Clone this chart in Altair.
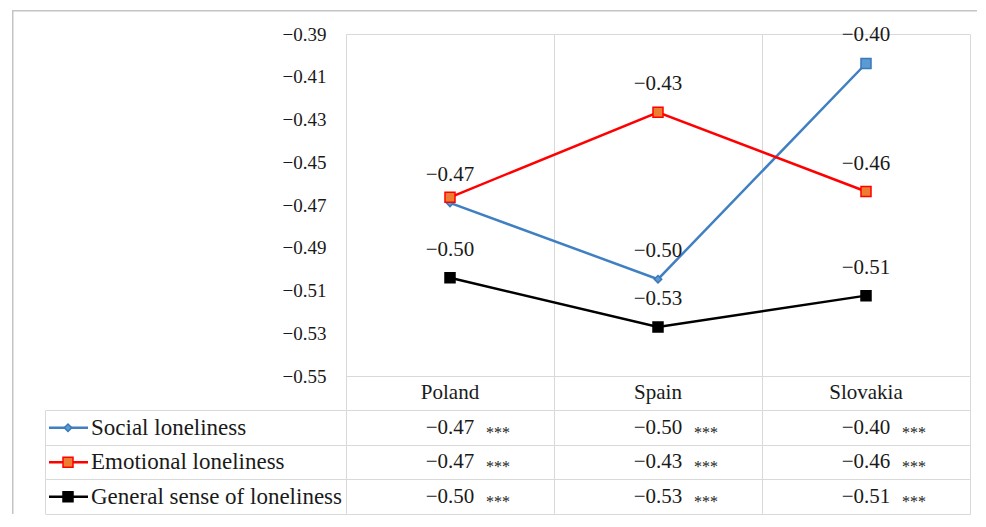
import altair as alt
import pandas as pd

# ---------------- data ----------------
countries = ["Poland", "Spain", "Slovakia"]
series_names = ["Social loneliness", "Emotional loneliness", "General sense of loneliness"]
social = [-0.469, -0.5047, -0.4038]
emotional = [-0.4664, -0.4266, -0.4637]
general = [-0.504, -0.5271, -0.5124]
significance = ["***", "***", "***"]
y_ticks = [-0.55, -0.53, -0.51, -0.49, -0.47, -0.45, -0.43, -0.41, -0.39]

line_colors = ["#3f7fc2", "#ff0000", "#000000"]
fill_colors = ["#5b9bd5", "#ed7d31", "#000000"]
edge_colors = ["#3a78b8", "#ff0000", "#000000"]

FONT = "Liberation Serif"
TXT = "#1a1a1a"
GRID = "#d9d9d9"
FRAME = "#c4c4c4"

TOP_H = 342
BOT_H = 138

rows = []
for s, vals in zip(series_names, [social, emotional, general]):
    for i, (c, v, st) in enumerate(zip(countries, vals, significance)):
        rows.append({"series": s, "row": s, "country": c, "idx": i, "value": v, "stars": st})
df = pd.DataFrame(rows)

header_key = " "
row_domain = [header_key] + series_names
header_df = pd.DataFrame({"country": countries, "row": [header_key] * len(countries)})
label_df = pd.DataFrame({"series": series_names, "row": series_names})
frame_df = pd.DataFrame({"k": [0]})

shape_expr = "datum.series == 'Social loneliness' && datum.country != 'Slovakia' ? 'diamond' : 'square'"
size_expr = "datum.series == 'Social loneliness' && datum.country != 'Slovakia' ? 55 : 100"

x_scale = alt.Scale(type="band", domain=countries, paddingInner=0, paddingOuter=0)
x_axis = alt.Axis(title=None, labels=False, ticks=False, domain=False, grid=True,
                  bandPosition=0, gridColor=GRID, gridWidth=1)

def xenc():
    return alt.X("country:N", scale=x_scale, axis=x_axis, bandPosition=0.5)

color_line = alt.Color("series:N", scale=alt.Scale(domain=series_names, range=line_colors), legend=None)
fill_enc = alt.Fill("series:N", scale=alt.Scale(domain=series_names, range=fill_colors), legend=None)
stroke_enc = alt.Stroke("series:N", scale=alt.Scale(domain=series_names, range=edge_colors), legend=None)

# ---------------- top line chart ----------------
y_top = alt.Y("value:Q", scale=alt.Scale(domain=[-0.55, -0.39], nice=False, zero=False),
              axis=alt.Axis(title=None, values=y_ticks, format=".2f", grid=False, ticks=False,
                            domain=False, labelPadding=20, labelFont=FONT, labelFontSize=19,
                            labelColor=TXT))

base = alt.Chart(df)
lines = base.mark_line(strokeWidth=2.5).encode(x=xenc(), y=y_top, color=color_line,
                                                order=alt.Order("idx:Q"))
points = base.transform_calculate(shp=shape_expr, sz=size_expr).mark_point(
    filled=True, opacity=1, strokeWidth=1.5).encode(
    x=xenc(), y=y_top, fill=fill_enc, stroke=stroke_enc,
    shape=alt.Shape("shp:N", scale=None), size=alt.Size("sz:Q", scale=None))
labels = base.transform_filter(
    "!(datum.series == 'Emotional loneliness' && datum.country == 'Poland')"
).mark_text(dy=-28, font=FONT, fontSize=21, color=TXT).encode(
    x=xenc(), y=y_top, text=alt.Text("value:Q", format=".2f"))

# outer chart frame (decoration)
frame_v = alt.Chart(frame_df).mark_rect(color=FRAME).encode(
    x=alt.value(-334), x2=alt.value(-332.5), y=alt.value(-24), y2=alt.value(TOP_H))
frame_h = alt.Chart(frame_df).mark_rect(color=FRAME).encode(
    x=alt.value(-334), x2=alt.value(631), y=alt.value(-24), y2=alt.value(-22.5))

top = alt.layer(frame_v, frame_h, lines, points, labels).properties(width=624, height=TOP_H)

# ---------------- bottom data table ----------------
y_scale_b = alt.Scale(type="band", domain=row_domain, paddingInner=0, paddingOuter=0)
y_axis_b = alt.Axis(title=None, labels=False, domain=False, ticks=True, tickSize=301,
                    tickColor=GRID, grid=True, gridColor=GRID, bandPosition=1)

def yb(center=True):
    if center:
        return alt.Y("row:N", scale=y_scale_b, axis=y_axis_b, bandPosition=0.5)
    return alt.Y("row:N", scale=y_scale_b, axis=y_axis_b)

frame_v2 = alt.Chart(frame_df).mark_rect(color=FRAME).encode(
    x=alt.value(-334), x2=alt.value(-332.5), y=alt.value(0), y2=alt.value(BOT_H))
left_border = alt.Chart(label_df).mark_rect(color=GRID).encode(
    x=alt.value(-301), x2=alt.value(-300), y=yb(False))
leg_rule = alt.Chart(label_df).mark_rule(strokeWidth=2.5).encode(
    x=alt.value(-297), x2=alt.value(-258), y=yb(), color=color_line)
leg_pt = alt.Chart(label_df).transform_calculate(
    shp="datum.series == 'Social loneliness' ? 'diamond' : 'square'",
    sz="datum.series == 'Social loneliness' ? 55 : 100").mark_point(
    filled=True, opacity=1, strokeWidth=1.5).encode(
    x=alt.value(-278), y=yb(), fill=fill_enc, stroke=stroke_enc,
    shape=alt.Shape("shp:N", scale=None), size=alt.Size("sz:Q", scale=None))
row_text = alt.Chart(label_df).mark_text(align="left", font=FONT, fontSize=23, color=TXT).encode(
    x=alt.value(-255), y=yb(), text="series:N")
head_text = alt.Chart(header_df).mark_text(font=FONT, fontSize=21, color=TXT).encode(
    x=xenc(), y=yb(), text="country:N")
val_text = alt.Chart(df).mark_text(font=FONT, fontSize=21, color=TXT).encode(
    x=xenc(), y=yb(), text=alt.Text("value:Q", format=".2f"))
star_text = alt.Chart(df).mark_text(align="left", dx=36, dy=5, font=FONT, fontSize=16, color=TXT).encode(
    x=xenc(), y=yb(), text="stars:N")

bottom = alt.layer(frame_v2, left_border, leg_rule, leg_pt, row_text, head_text, val_text,
                   star_text).properties(width=624, height=BOT_H)

chart = alt.vconcat(top, bottom, spacing=0, bounds="flush").configure_view(
    stroke=GRID, strokeWidth=1).properties(
    padding={"left": 3, "top": 1, "right": 0, "bottom": 0})

chart.save("out.html", embed_options={"renderer": "svg", "actions": False})
